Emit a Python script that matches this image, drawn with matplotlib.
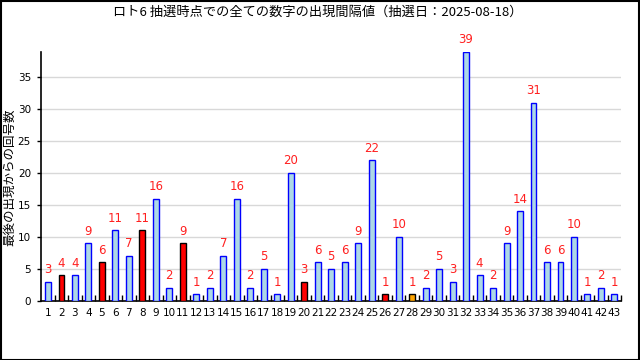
import matplotlib.pyplot as plt
from matplotlib.patches import Rectangle
from matplotlib.ticker import FixedLocator

plt.rcParams["font.family"] = ["Noto Sans CJK JP", "DejaVu Sans"]

numbers = list(range(1, 44))
intervals = [3, 4, 4, 9, 6, 11, 7, 11, 16, 2, 9, 1, 2, 7, 16, 2, 5, 1, 20, 3,
             6, 5, 6, 9, 22, 1, 10, 1, 2, 5, 3, 39, 4, 2, 9, 14, 31, 6, 6, 10,
             1, 2, 1]
# winning numbers of the latest draw (red) and bonus number (orange)
winning = [2, 5, 8, 11, 20, 26]
bonus = [28]

title = "ロト6 抽選時点での全ての数字の出現間隔値（抽選日：2025-08-18）"
ylabel = "最後の出現からの回号数"

face, edge = [], []
for n in numbers:
    if n in winning:
        face.append("#ff0000")
        edge.append("black")
    elif n in bonus:
        face.append("#ffa500")
        edge.append("black")
    else:
        face.append("#add8e6")
        edge.append("#0000ff")

fig = plt.figure(figsize=(6.4, 3.6), dpi=100)
ax = fig.add_axes([0.0636, 0.1647, 0.907, 0.6917])

ax.bar(numbers, intervals, width=0.44, color=face, edgecolor=edge,
       linewidth=1.0, zorder=3)

for n, v in zip(numbers, intervals):
    ax.annotate(str(v), (n, v), xytext=(0, 4), textcoords="offset points",
                ha="center", va="bottom", color="#ff2020", fontsize=8.5,
                family="DejaVu Sans")

ax.set_xlim(0.46, 43.5)
ax.set_ylim(0, 39)

ax.set_xticks(numbers)
ax.set_xticklabels([str(n) for n in numbers], fontsize=7.5, family="DejaVu Sans")
ax.xaxis.set_minor_locator(FixedLocator([n + 0.5 for n in numbers]))
ax.tick_params(axis="x", which="major", length=0, pad=5)
ax.tick_params(axis="x", which="minor", direction="in", length=4, width=1,
               color="black")

ax.set_yticks(range(0, 40, 5))
ax.set_yticklabels([str(y) for y in range(0, 40, 5)], fontsize=7.5,
                   family="DejaVu Sans")
ax.tick_params(axis="y", direction="out", length=3, width=1, pad=4)
ax.yaxis.grid(True, color="#d8d8d8", linewidth=1, zorder=0)
ax.set_axisbelow(True)

for s in ("top", "right"):
    ax.spines[s].set_visible(False)
for s in ("left", "bottom"):
    ax.spines[s].set_linewidth(1.2)

fig.text(9.5 / 640, 0.508, ylabel, rotation=90, ha="center", va="center",
         fontsize=9)
fig.text(0.497, 0.967, title, ha="center", va="center", fontsize=9.5)

fig.patches.append(Rectangle((0.001, 0.001), 0.997, 0.996,
                             transform=fig.transFigure, fill=False,
                             edgecolor="black", linewidth=1.5))

fig.savefig("out.png", dpi=100)
